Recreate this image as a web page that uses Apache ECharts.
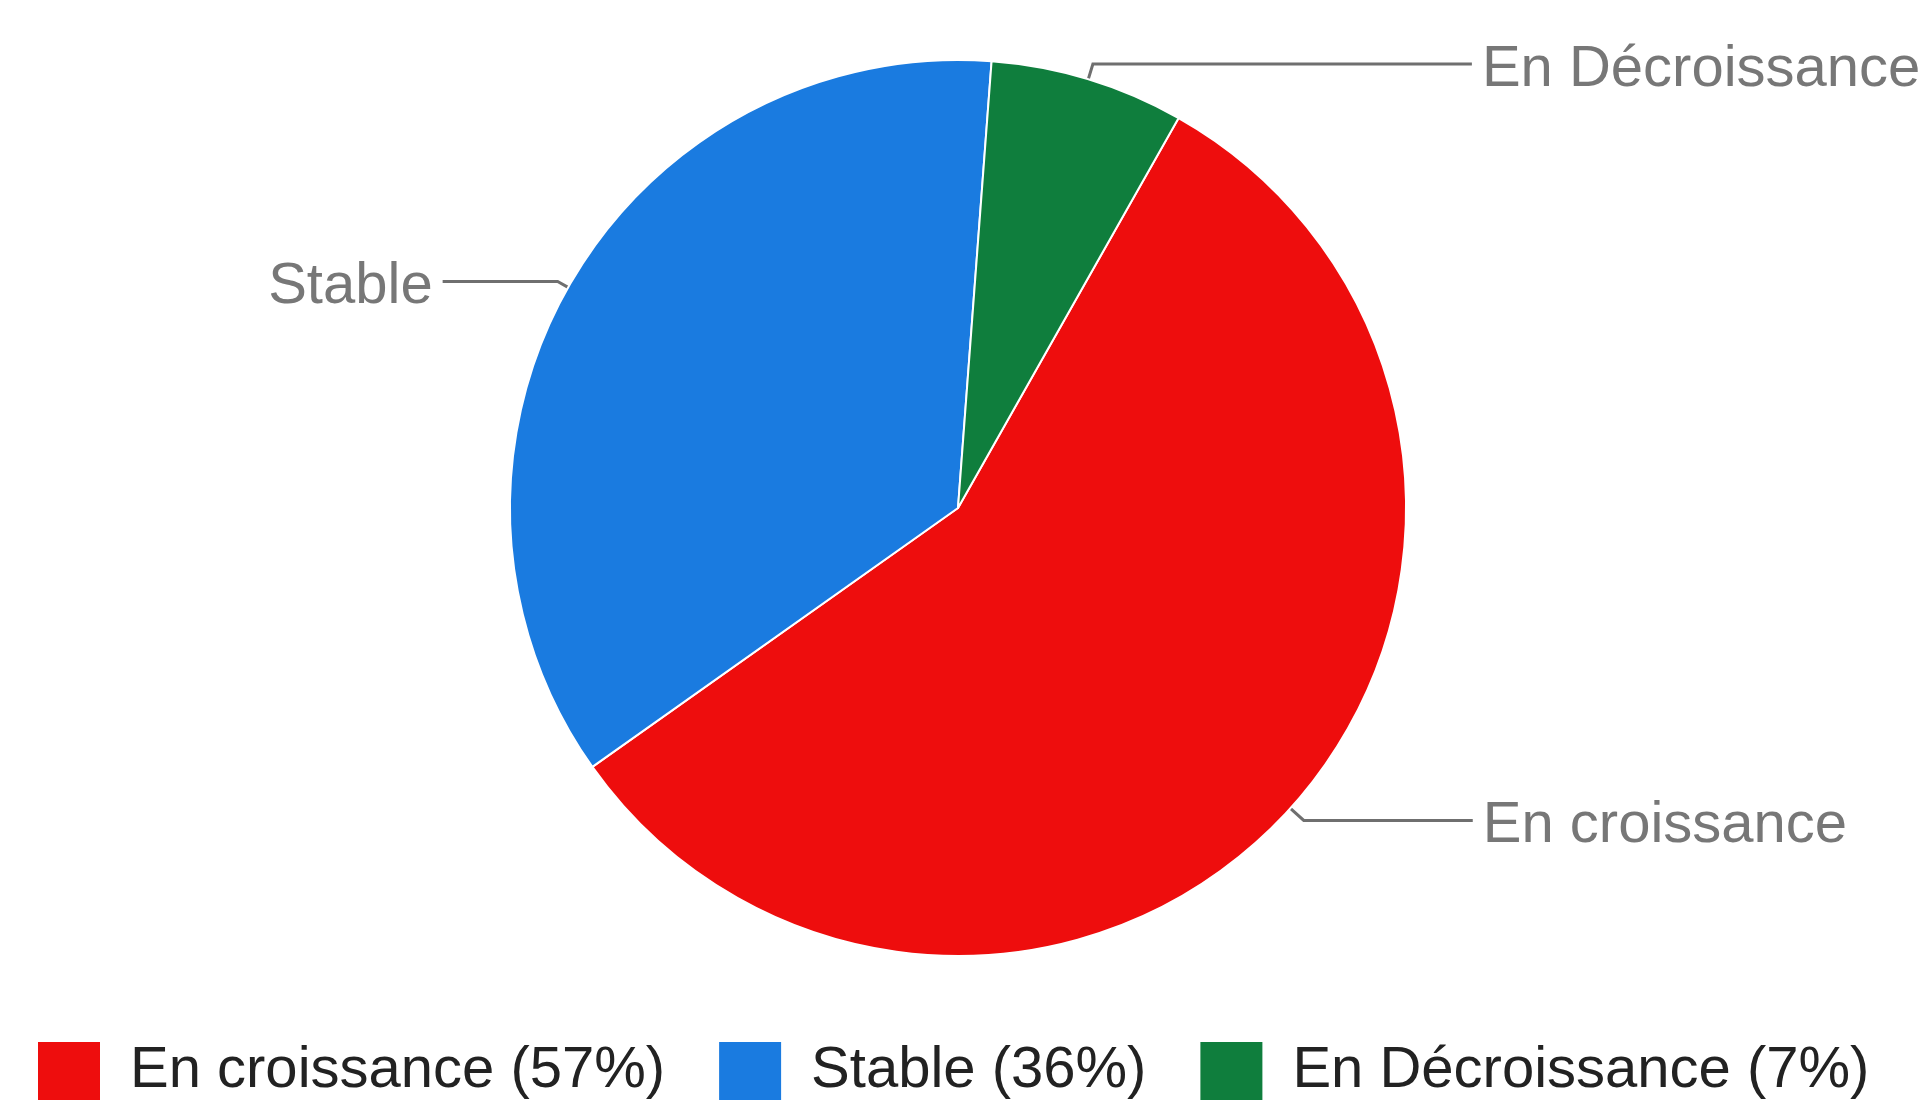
<!DOCTYPE html>
<html>
<head>
<meta charset="utf-8">
<style>
  html, body { margin: 0; padding: 0; background: #ffffff; }
  #chart { width: 1930px; height: 1110px; }
</style>
<script src="https://cdn.jsdelivr.net/npm/echarts@6/dist/echarts.min.js"></script>
</head>
<body>
<div id="chart"></div>
<script>
// Data
const categories = ['En croissance', 'Stable', 'En Décroissance'];
const values = [57, 36, 7];
const colors = ['#EE0D0D', '#1A7BE0', '#0F7E3D'];
const legendLabels = ['En croissance (57%)', 'Stable (36%)', 'En Décroissance (7%)'];
// per-slice leader line lengths (first radial segment, horizontal segment)
const lineLen = [18, 12, 16];
const lineLen2 = [169, 115, 379];

const chart = echarts.init(document.getElementById('chart'), null, { renderer: 'canvas' });

const data = categories.map((name, i) => ({
  name: name,
  value: values[i],
  itemStyle: { color: colors[i] },
  labelLine: { length: lineLen[i], length2: lineLen2[i] }
}));

const legendMap = {};
categories.forEach((c, i) => { legendMap[c] = legendLabels[i]; });

chart.setOption({
  animation: false,
  backgroundColor: '#ffffff',
  legend: {
    data: categories,
    left: 31,
    top: 1035,
    orient: 'horizontal',
    icon: 'rect',
    itemWidth: 64,
    itemHeight: 60,
    itemGap: 52,
    formatter: function (name) { return legendMap[name]; },
    textStyle: {
      fontFamily: 'Liberation Sans, Arial, sans-serif',
      fontSize: 58,
      color: '#222222',
      padding: [0, 0, 0, 24]
    },
    selectedMode: false
  },
  series: [{
    type: 'pie',
    center: [958, 508],
    radius: 448,
    startAngle: 60.5,
    clockwise: true,
    avoidLabelOverlap: false,
    emphasis: { disabled: true },
    itemStyle: { borderColor: '#ffffff', borderWidth: 2 },
    label: {
      show: true,
      position: 'outside',
      formatter: '{t|{b}}',
      distanceToLabelLine: 10,
      rich: {
        t: {
          fontFamily: 'Liberation Sans, Arial, sans-serif',
          fontSize: 58,
          lineHeight: 58,
          color: '#777777',
          padding: [12, 0, 0, 0]
        }
      }
    },
    labelLine: {
      show: true,
      smooth: false,
      lineStyle: { color: '#6f6f6f', width: 3 }
    },
    data: data
  }]
});
</script>
</body>
</html>
